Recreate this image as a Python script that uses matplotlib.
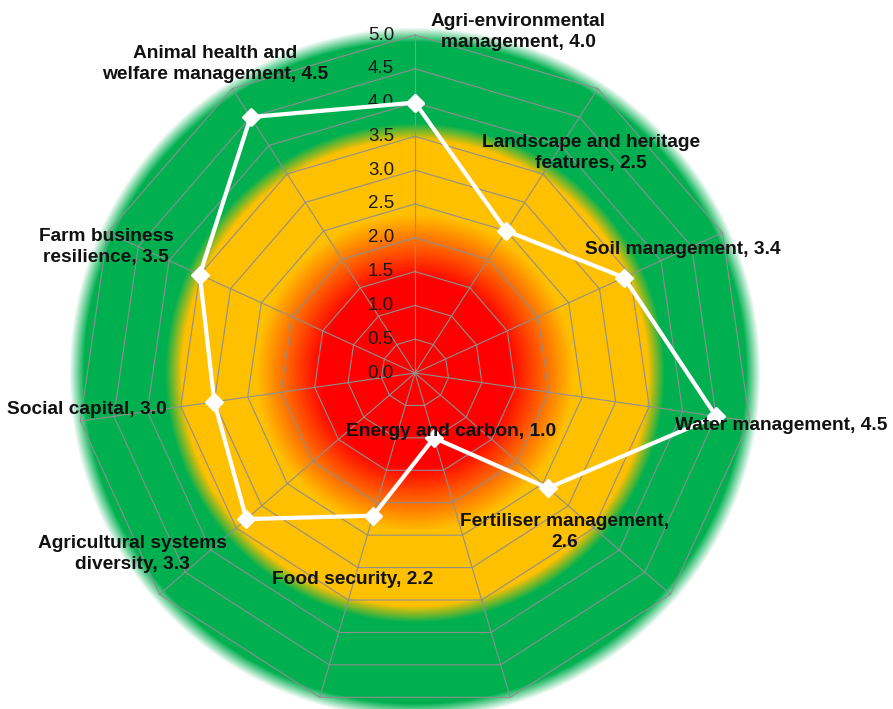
import numpy as np
import matplotlib
matplotlib.use("Agg")
import matplotlib.pyplot as plt

categories = ["Agri-environmental\nmanagement", "Landscape and heritage\nfeatures", "Soil management",
              "Water management", "Fertiliser management,\n", "Energy and carbon", "Food security",
              "Agricultural systems\ndiversity", "Social capital", "Farm business\nresilience",
              "Animal health and\nwelfare management"]
values = [4.0, 2.5, 3.4, 4.5, 2.6, 1.0, 2.2, 3.3, 3.0, 3.5, 4.5]
ticks = [0.0, 0.5, 1.0, 1.5, 2.0, 2.5, 3.0, 3.5, 4.0, 4.5, 5.0]
rmax = 5.0

# label positions in figure pixels (from top-left)
label_pos = [(518, 32), (591, 153), (683, 250), (781, 426), (565, 532), (451, 431),
             (353, 580), (132, 554), (87, 410), (106, 247), (215, 64)]

W, H = 893, 709
fig = plt.figure(figsize=(W / 100, H / 100), dpi=100)
ax = fig.add_axes([0, 0, 1, 1])
cx, cy = 415, 373       # centre in pixels
R = 338.0               # pixels for rmax
ppu = R / rmax
ax.set_xlim(-cx / ppu, (W - cx) / ppu)
ax.set_ylim(-(H - cy) / ppu, cy / ppu)
ax.set_aspect("equal")
ax.axis("off")

# background radial gradient
xs = np.linspace(-cx / ppu, (W - cx) / ppu, W)
ys = np.linspace(-(H - cy) / ppu, cy / ppu, H)
X, Y = np.meshgrid(xs, ys)
Rr = np.hypot(X, Y)
red = (1.0, 0.0, 0.0)
yel = (1.0, 192 / 255, 0.0)
grn = (0.0, 176 / 255, 80 / 255)
wht = (1.0, 1.0, 1.0)
stops = [0, 1.4, 2.35, 3.45, 3.7, 4.9, 5.12, 20]
cols = [red, red, yel, yel, grn, grn, wht, wht]
img = np.zeros(Rr.shape + (3,))
for c in range(3):
    img[..., c] = np.interp(Rr, stops, [col[c] for col in cols])
ax.imshow(img, extent=(xs[0], xs[-1], ys[0], ys[-1]), origin="lower", zorder=0, interpolation="bilinear")

n = len(categories)
ang = np.pi / 2 - 2 * np.pi * np.arange(n) / n
gcol = "#8f8f8f"
for t in ticks[1:]:
    px = np.append(t * np.cos(ang), t * np.cos(ang[0]))
    py = np.append(t * np.sin(ang), t * np.sin(ang[0]))
    ax.plot(px, py, color=gcol, lw=0.8, zorder=1)
for a in ang:
    ax.plot([0, rmax * np.cos(a)], [0, rmax * np.sin(a)], color=gcol, lw=0.8, zorder=1)

# tick labels
for t in ticks:
    ax.text(-21 / ppu, t, f"{t:.1f}", ha="right", va="center", fontsize=13.5,
            family="Liberation Sans", color="#1a1a1a", zorder=3)

# data
v = np.array(values)
dx = np.append(v * np.cos(ang), v[0] * np.cos(ang[0]))
dy = np.append(v * np.sin(ang), v[0] * np.sin(ang[0]))
ax.plot(dx, dy, color="white", lw=3, zorder=4, marker="D", markersize=9,
        markerfacecolor="white", markeredgecolor="white")

# category labels
for cat, val, (lx, ly) in zip(categories, values, label_pos):
    if cat.endswith("\n"):
        txt = f"{cat}{val:.1f}"
    else:
        txt = f"{cat}, {val:.1f}"
    fig.text(lx / W, 1 - ly / H, txt, ha="center", va="center", fontsize=13.8,
             fontweight="bold", family="Liberation Sans", color="#111111",
             linespacing=1.25, zorder=5)

fig.savefig("out.png", dpi=100)
